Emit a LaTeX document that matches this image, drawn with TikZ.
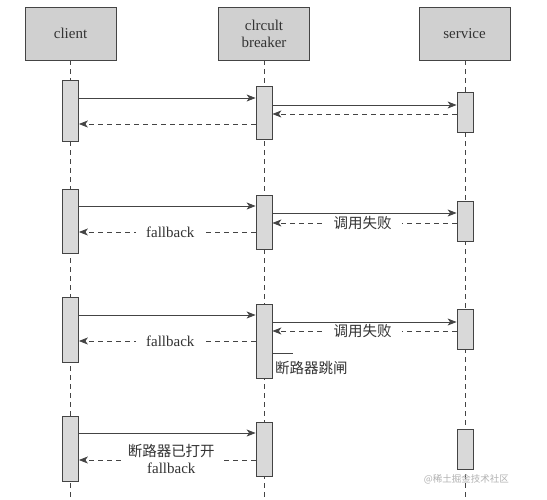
\documentclass[tikz,border=0pt]{standalone}
\usepackage{fontspec}
\setmainfont{Liberation Serif}
\newfontfamily\cjk{Noto Sans CJK SC}
\usetikzlibrary{arrows.meta}
\definecolor{ink}{HTML}{444444}
\definecolor{headfill}{HTML}{D0D0D0}
\definecolor{actfill}{HTML}{D9D9D9}
\tikzset{
  head/.style={draw=ink, fill=headfill, line width=0.8pt, minimum width=91pt, minimum height=53pt, inner sep=0pt, align=center, font=\fontsize{15}{17}\selectfont, text=black!80},
  act/.style={draw=ink, fill=actfill, line width=0.8pt, minimum width=16pt, inner sep=0pt},
  life/.style={draw=ink, line width=0.7pt, dash pattern=on 5pt off 4pt},
  call/.style={draw=ink, line width=0.8pt, -{Stealth[length=9pt,width=7pt,inset=2.5pt]}},
  ret/.style={draw=ink, line width=0.8pt, dash pattern=on 5pt off 4pt, -{Stealth[length=9pt,width=7pt,inset=2.5pt]}},
  lbl/.style={fill=white, inner xsep=10pt, inner ysep=1pt, font=\fontsize{15}{16}\selectfont, text=black!80},
  cjklbl/.style={font=\cjk\fontsize{14.5}{16}\selectfont, text=black!80}
}
\begin{document}
\begin{tikzpicture}[x=1pt,y=-1pt]
\useasboundingbox[fill=white] (0,0) rectangle (547,499);
% headers
\node[head] (client) at (70.5,33.5) {client};
\node[head] (breaker) at (264,33.5) {clrcult\\breaker};
\node[head] (service) at (464.5,33.5) {service};
% lifelines
\coordinate (cend) at (70.5,499);
\coordinate (bend) at (264,499);
\coordinate (send) at (465,499);
\draw[life] (client.south) -- (cend);
\draw[life] (breaker.south) -- (bend);
\draw[life] (service.south -| send) -- (send);
% group 1
\node[act, minimum height=61pt] (c1) at (70.5,110.5) {};
\node[act, minimum height=53pt] (b1) at (264,112.5) {};
\node[act, minimum height=40pt] (s1) at (465,112) {};
\draw[call] (c1.east |- 0,98) -- (b1.west |- 0,98);
\draw[call] (b1.east |- 0,105) -- (s1.west |- 0,105);
\draw[ret] (s1.west |- 0,114) -- (b1.east |- 0,114);
\draw[ret] (b1.west |- 0,124) -- (c1.east |- 0,124);
% group 2
\node[act, minimum height=64pt] (c2) at (70.5,221) {};
\node[act, minimum height=54pt] (b2) at (264,222) {};
\node[act, minimum height=40pt] (s2) at (465,221) {};
\draw[call] (c2.east |- 0,206) -- (b2.west |- 0,206);
\draw[call] (b2.east |- 0,213) -- (s2.west |- 0,213);
\draw[ret] (s2.west |- 0,223) -- node[lbl, cjklbl, xshift=-2pt] {调用失败} (b2.east |- 0,223);
\draw[ret] (b2.west |- 0,232) -- node[lbl, xshift=3pt] {fallback} (c2.east |- 0,232);
% group 3
\node[act, minimum height=65pt] (c3) at (70.5,329.5) {};
\node[act, minimum height=74pt] (b3) at (264,341) {};
\node[act, minimum height=40pt] (s3) at (465,329) {};
\draw[call] (c3.east |- 0,315) -- (b3.west |- 0,315);
\draw[call] (b3.east |- 0,322) -- (s3.west |- 0,322);
\draw[ret] (s3.west |- 0,331) -- node[lbl, cjklbl, xshift=-2pt] {调用失败} (b3.east |- 0,331);
\draw[ret] (b3.west |- 0,341) -- node[lbl, xshift=3pt] {fallback} (c3.east |- 0,341);
\coordinate (tripend) at (293,353);
\draw[ink, line width=0.8pt] (b3.east |- tripend) -- (tripend);
\node[cjklbl, anchor=west, inner sep=0pt] (trip) at (275,368) {断路器跳闸};
% group 4
\node[act, minimum height=65pt] (c4) at (70.5,448.5) {};
\node[act, minimum height=54pt] (b4) at (264,449) {};
\node[act, minimum height=40pt] (s4) at (465,449) {};
\draw[call] (c4.east |- 0,433) -- (b4.west |- 0,433);
\draw[ret] (b4.west |- 0,460) -- node[fill=white, inner xsep=6pt, inner ysep=0pt, align=center, xshift=4pt, yshift=1pt, text=black!80] {{\cjk\fontsize{14.5}{16}\selectfont 断路器已打开}\\[5pt]{\fontsize{15}{16}\selectfont fallback}} (c4.east |- 0,460);
% watermark
\node[font=\cjk\fontsize{9.5}{11}\selectfont, text=black!30, anchor=east, inner sep=0pt] (wm) at (509,479) {@稀土掘金技术社区};
\end{tikzpicture}
\end{document}
